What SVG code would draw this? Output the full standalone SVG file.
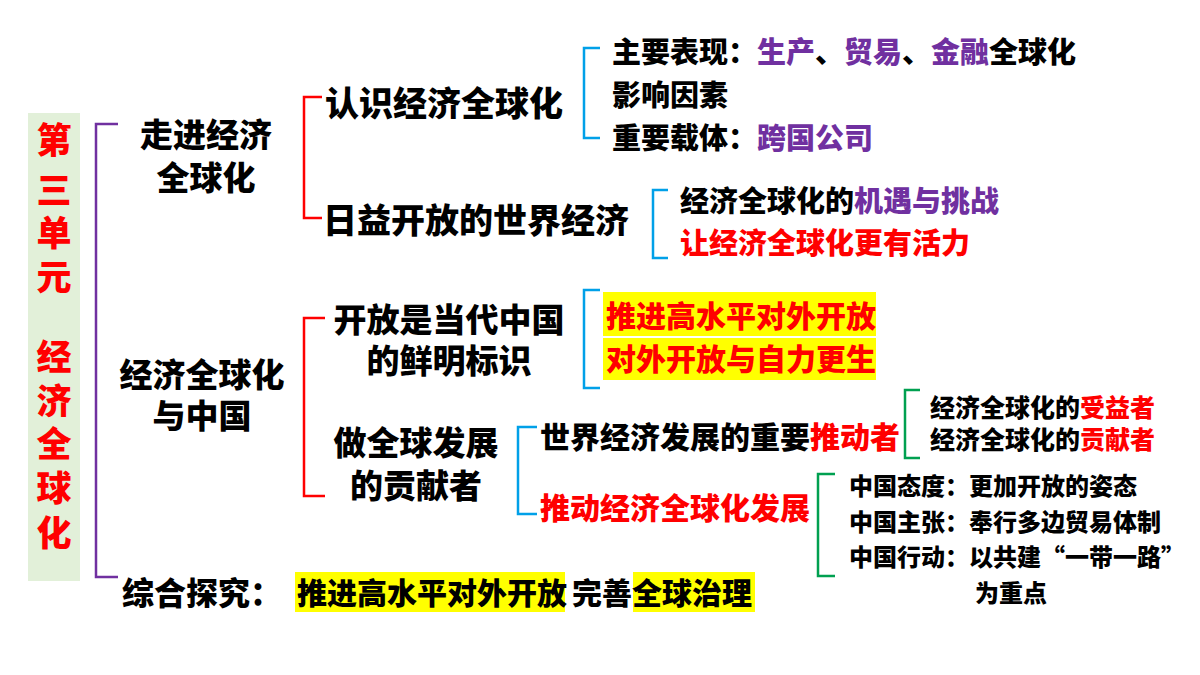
<svg xmlns="http://www.w3.org/2000/svg" width="1200" height="675" viewBox="0 0 1200 675">
<style>
text{font-family:"Noto Sans CJK SC","Noto Sans",sans-serif;font-weight:900;fill:#000}
.r{fill:#ff0000}.p{fill:#7030a0}
.br{fill:none;stroke-width:2.5}
.red{stroke:#ff0000}.blue{stroke:#00a0e8}.green{stroke:#00a050}.pur{stroke:#7030a0}
.hl{fill:#ffff00}
</style>
<rect width="1200" height="675" fill="#fff"/>
<g id="connectors">
<path class="br pur" d="M118,124 H96 V577 H118"/>
<path class="br red" d="M322,97 H304 V218 H322"/>
<path class="br blue" d="M600,48 H584 V138 H600"/>
<path class="br blue" d="M668,190 H653 V258 H668"/>
<path class="br red" d="M325,318 H304 V496 H325"/>
<path class="br blue" d="M600,290 H584 V388 H600"/>
<path class="br blue" d="M537,427 H518 V514 H537"/>
<path class="br green" d="M920,390 H905 V458 H920"/>
<path class="br green" d="M835,474 H818 V576 H835"/>
</g>
<g id="unit">
<rect x="28" y="113" width="52" height="468" fill="#e2f0d9"/>
<g font-size="35" text-anchor="middle">
<text class="r" x="54" y="153">第</text><text class="r" x="54" y="203">三</text><text class="r" x="54" y="246">单</text><text class="r" x="54" y="290">元</text>
<text class="r" x="54" y="370">经</text><text class="r" x="54" y="414">济</text><text class="r" x="54" y="457">全</text><text class="r" x="54" y="501">球</text><text class="r" x="54" y="546">化</text>
</g>
</g>
<g id="n1" font-size="33" text-anchor="middle"><text x="206" y="147">走进经济</text><text x="206" y="190">全球化</text></g>
<g id="n2" font-size="33" text-anchor="middle"><text x="202" y="387">经济全球化</text><text x="202" y="428">与中国</text></g>
<g id="n3"><rect class="hl" x="295" y="572" width="270" height="40"/><rect class="hl" x="633" y="572" width="122" height="40"/>
<text x="122" y="605" font-size="32">综合探究：</text>
<text x="297" y="604" font-size="30">推进高水平对外开放</text>
<text x="572" y="604" font-size="30">完善全球治理</text></g>
<g id="n4"><text x="325" y="116" font-size="34">认识经济全球化</text><text x="323" y="233" font-size="34">日益开放的世界经济</text></g>
<g id="n5" font-size="29"><text x="612" y="63">主要表现：<tspan class="p">生产</tspan>、<tspan class="p">贸易</tspan>、<tspan class="p">金融</tspan>全球化</text>
<text x="612" y="106">影响因素</text><text x="612" y="149">重要载体：<tspan class="p">跨国公司</tspan></text></g>
<g id="n6" font-size="29"><text x="680" y="212">经济全球化的<tspan class="p">机遇与挑战</tspan></text><text class="r" x="680" y="254">让经济全球化更有活力</text></g>
<g id="n7" font-size="33" text-anchor="middle"><text x="449" y="332">开放是当代中国</text><text x="449" y="373">的鲜明标识</text><text x="416" y="455">做全球发展</text><text x="416" y="498">的贡献者</text></g>
<g id="n8"><rect class="hl" x="603" y="292" width="273" height="44"/><rect class="hl" x="603" y="338" width="273" height="42"/>
<text class="r" x="606" y="327" font-size="30">推进高水平对外开放</text><text class="r" x="606" y="370" font-size="30">对外开放与自力更生</text></g>
<g id="n9" font-size="30"><text x="540" y="448">世界经济发展的重要<tspan class="r">推动者</tspan></text><text class="r" x="540" y="519">推动经济全球化发展</text></g>
<g id="n10" font-size="25"><text x="930" y="417">经济全球化的<tspan class="r">受益者</tspan></text><text x="930" y="449">经济全球化的<tspan class="r">贡献者</tspan></text></g>
<g id="n11" font-size="24"><text x="849" y="495">中国态度：更加开放的姿态</text><text x="849" y="531">中国主张：奉行多边贸易体制</text><text x="849" y="566">中国行动：以共建“一带一路”</text><text x="975" y="602">为重点</text></g>
</svg>
